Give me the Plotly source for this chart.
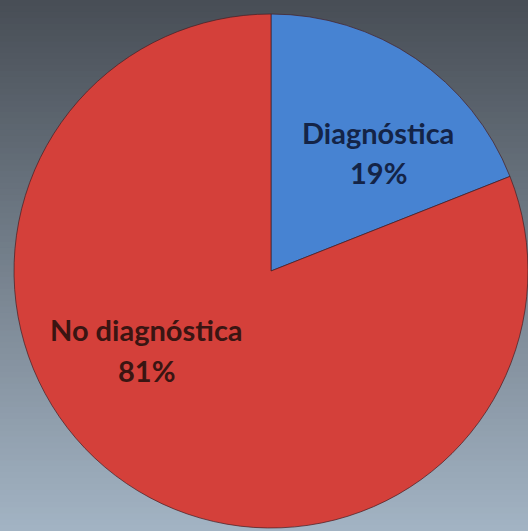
import plotly.graph_objects as go

labels = ["Diagnóstica", "No diagnóstica"]
values = [19, 81]
colors = ["#4783d2", "#d4403a"]
text_colors = ["#142447", "#3a1512"]

W, H = 528, 531

fig = go.Figure()
fig.add_trace(go.Pie(
    labels=labels, values=values, sort=False, direction="clockwise", rotation=0,
    marker=dict(colors=colors, line=dict(color="rgba(70,30,35,0.7)", width=1)),
    textinfo="none", hoverinfo="label+percent", showlegend=False,
    domain=dict(x=[14 / W, 1.0], y=[2 / H, 518 / H]),
))

# background vertical gradient
top = (72, 78, 86)
bot = (162, 179, 195)
n = 90
shapes = []
for i in range(n):
    t = i / (n - 1)
    c = tuple(round(top[k] + (bot[k] - top[k]) * t) for k in range(3))
    shapes.append(dict(type="rect", xref="paper", yref="paper", layer="below",
                       x0=0, x1=1, y0=1 - (i + 1) / n - 0.002, y1=1 - i / n,
                       fillcolor="rgb(%d,%d,%d)" % c, line=dict(width=0)))

total = sum(values)
pct = [f"{round(v * 100 / total)}%" for v in values]
pos = [((378, 132), (378, 172)), ((146, 329), (146, 370))]
annotations = []
for i in range(len(labels)):
    for txt, (px, py) in zip([labels[i], pct[i]], pos[i]):
        annotations.append(dict(x=px / W, y=1 - py / H, xref="paper", yref="paper",
                                text=f"<b>{txt}</b>", showarrow=False,
                                font=dict(family="Lato", size=29, color=text_colors[i]),
                                xanchor="center", yanchor="middle"))

fig.update_layout(width=W, height=H, margin=dict(l=0, r=0, t=0, b=0),
                  paper_bgcolor="rgb(110,122,135)", plot_bgcolor="rgba(0,0,0,0)",
                  shapes=shapes, annotations=annotations)
fig.write_html("out.html")
